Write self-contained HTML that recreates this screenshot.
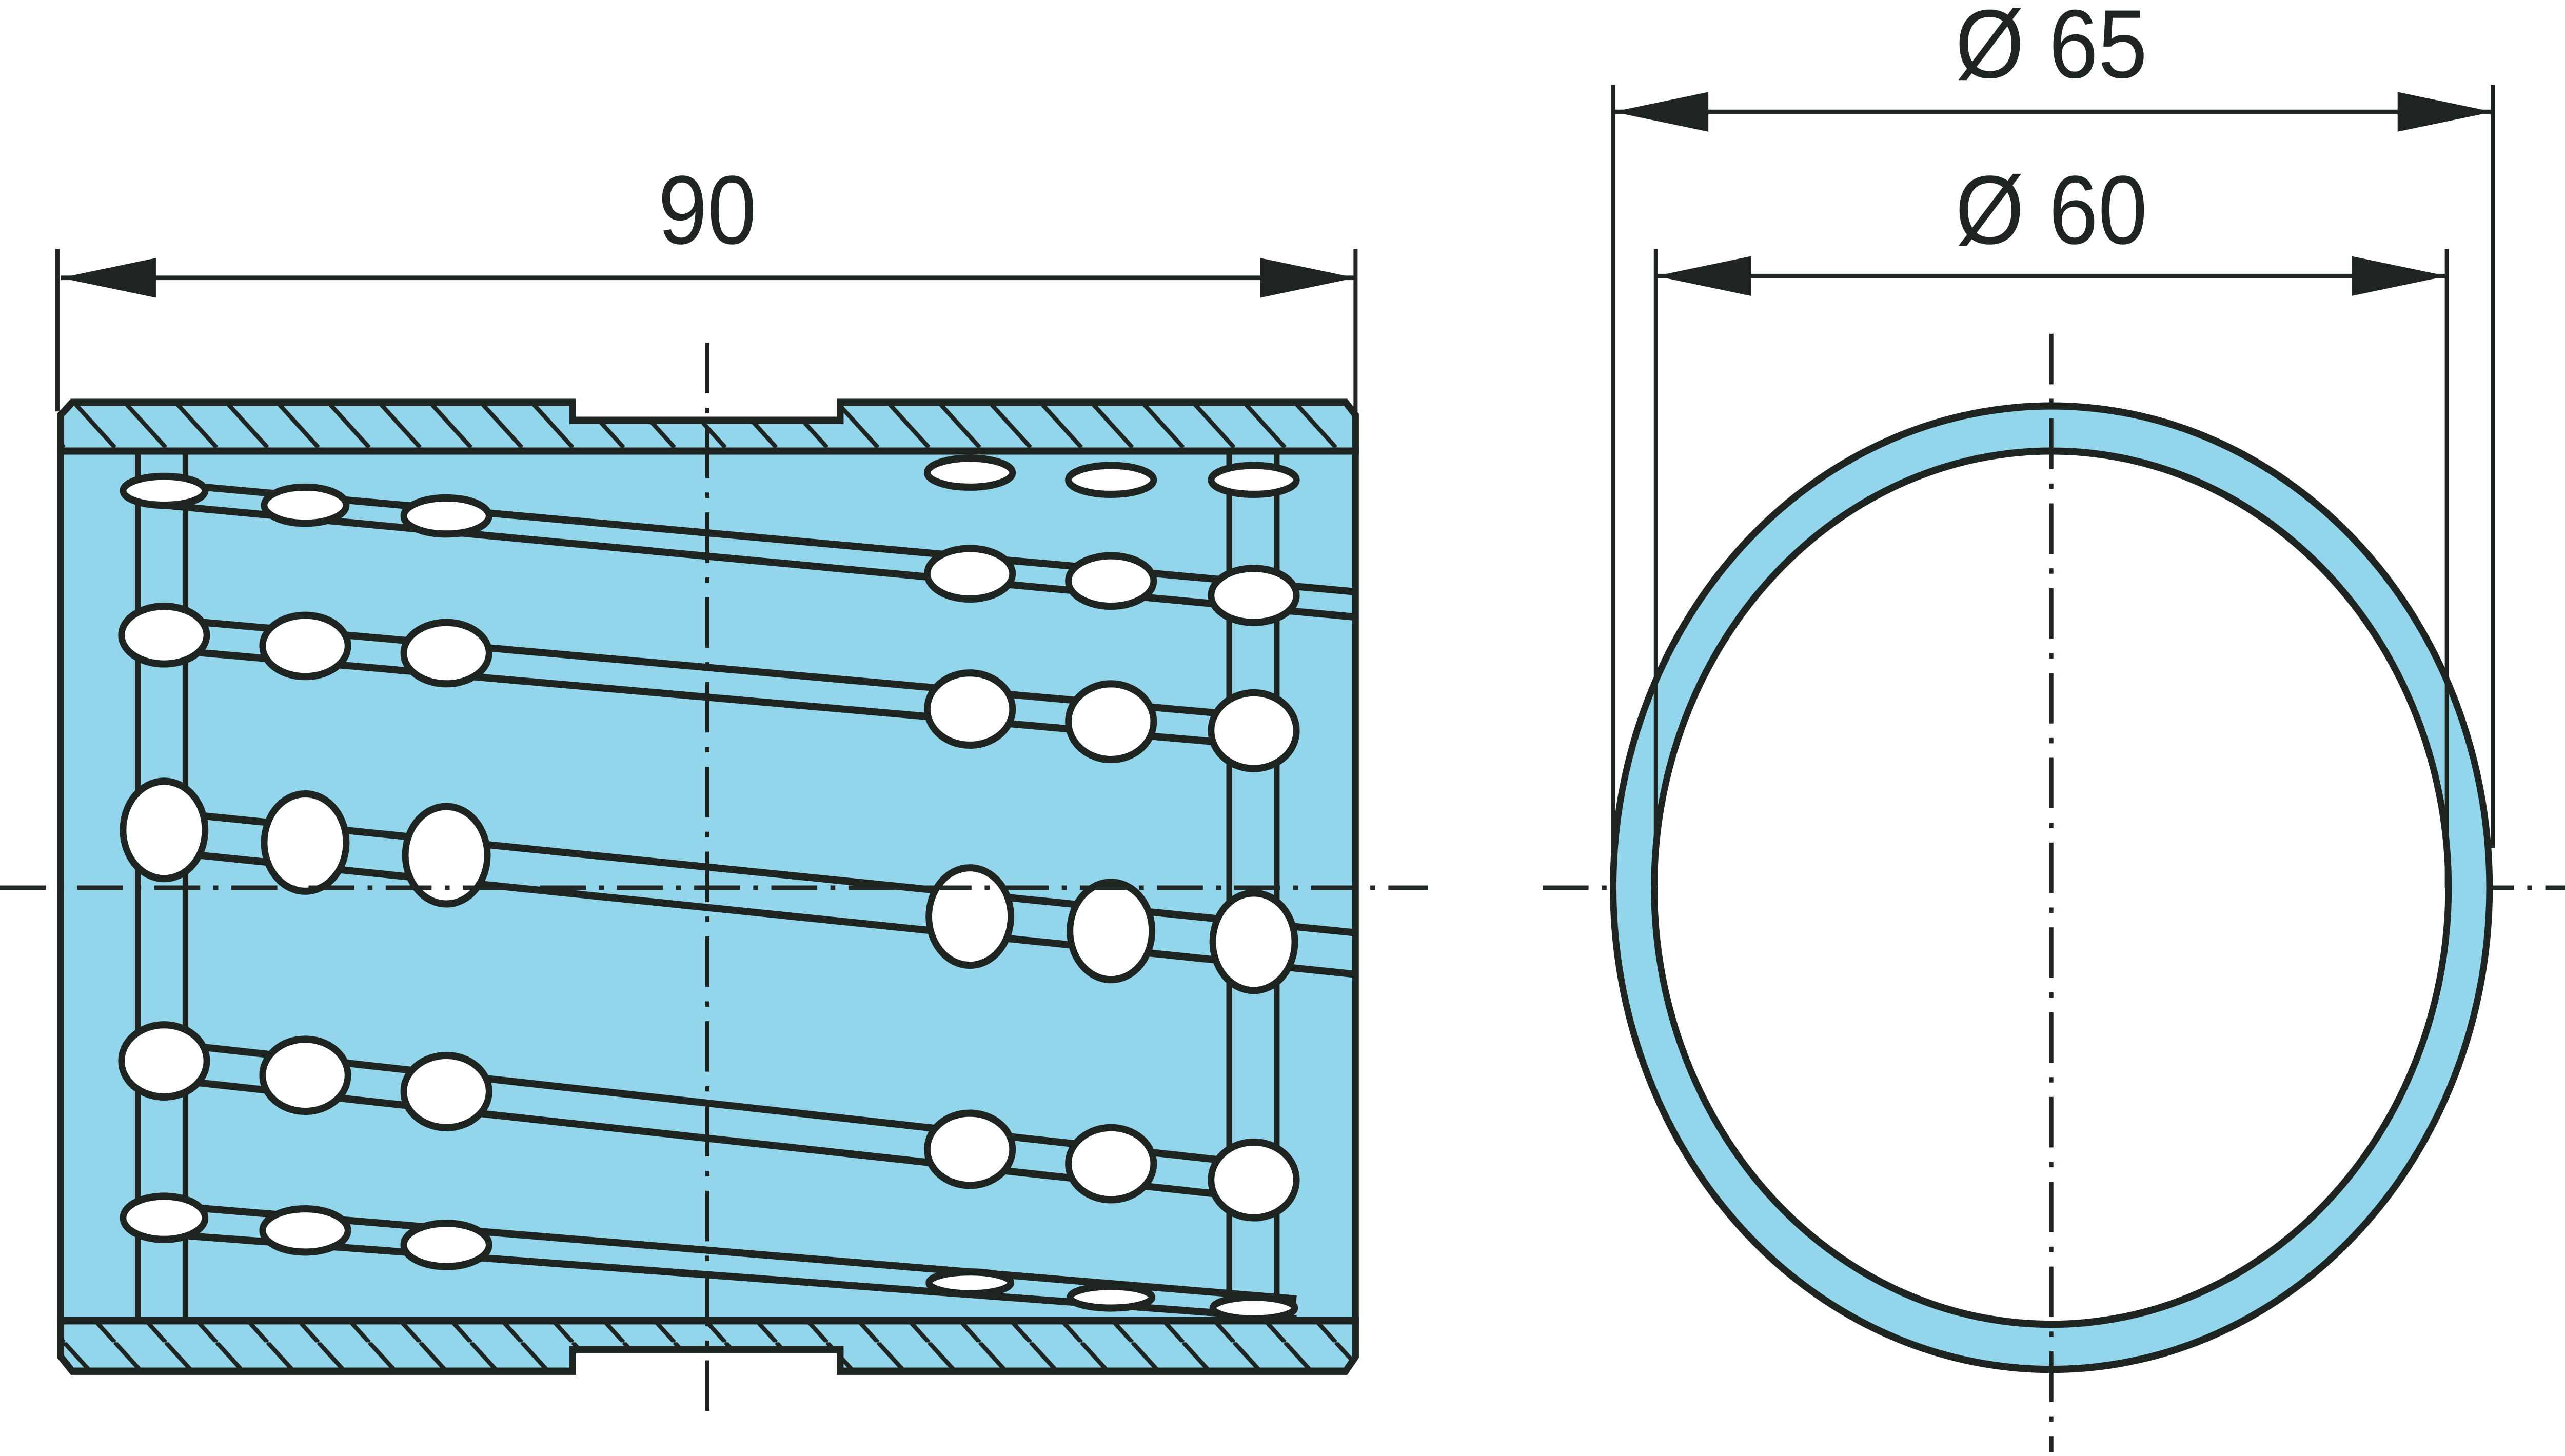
<!DOCTYPE html>
<html><head><style>html,body{margin:0;padding:0;background:#fff;width:100%;height:100%;overflow:hidden}svg{display:block;position:fixed;left:0;top:0;width:100vw;height:100vh}</style></head>
<body>
<svg xmlns="http://www.w3.org/2000/svg" viewBox="0 0 1563 807" preserveAspectRatio="none">
<defs>
<pattern id="h" patternUnits="userSpaceOnUse" width="31" height="31" patternTransform="translate(8,0)">
<line x1="0" y1="0" x2="31" y2="31" stroke="#1e2420" stroke-width="2.5"/>
<line x1="-31" y1="0" x2="0" y2="31" stroke="#1e2420" stroke-width="2.5"/>
<line x1="31" y1="0" x2="62" y2="31" stroke="#1e2420" stroke-width="2.5"/>
</pattern>
</defs>
<g stroke="#1e2420" fill="none" stroke-linejoin="miter">
<rect x="37" y="250" width="789" height="482" fill="#93d6ec" stroke-width="4"/>
<polygon points="37,230 44,223 349,223 349,233 512,233 512,223 820,223 826,230 826,250 37,250" fill="#93d6ec" stroke-width="4"/>
<polygon points="37,230 44,223 349,223 349,233 512,233 512,223 820,223 826,230 826,250 37,250" fill="url(#h)" stroke-width="4"/>
<polygon points="37,732 826,732 826,752 820,760 512,760 512,748 349,748 349,760 44,760 37,752" fill="#93d6ec" stroke-width="4"/>
<polygon points="37,732 826,732 826,752 820,760 512,760 512,748 349,748 349,760 44,760 37,752" fill="url(#h)" stroke-width="4"/>
<g stroke-width="3.5">
<line x1="84" y1="252" x2="84" y2="732"/><line x1="113" y1="252" x2="113" y2="732"/>
<line x1="749" y1="252" x2="749" y2="732"/><line x1="778" y1="252" x2="778" y2="732"/>
</g>
<g stroke-width="4">
<line x1="100" y1="268" x2="826" y2="328"/><line x1="100" y1="280" x2="826" y2="342"/>
<line x1="100" y1="343" x2="764" y2="397"/><line x1="100" y1="360" x2="764" y2="413"/>
<line x1="100" y1="450" x2="826" y2="517"/><line x1="100" y1="472" x2="826" y2="540"/>
<line x1="100" y1="578" x2="764" y2="645"/><line x1="100" y1="598" x2="764" y2="664"/>
<line x1="100" y1="668" x2="790" y2="720"/><line x1="100" y1="684" x2="790" y2="731"/>
</g>
<g fill="#fff" stroke-width="4">
<ellipse cx="100" cy="272" rx="25" ry="8"/><ellipse cx="186" cy="280" rx="25" ry="10"/><ellipse cx="272" cy="286" rx="26" ry="10"/>
<ellipse cx="591" cy="262" rx="26" ry="8"/><ellipse cx="677" cy="266" rx="26" ry="8"/><ellipse cx="764" cy="266" rx="26" ry="8"/>
<ellipse cx="591" cy="318" rx="26" ry="14"/><ellipse cx="677" cy="322" rx="26" ry="14"/><ellipse cx="764" cy="330" rx="26" ry="15"/>
<ellipse cx="100" cy="352" rx="26" ry="16"/><ellipse cx="186" cy="358" rx="26" ry="17"/><ellipse cx="272" cy="362" rx="26" ry="17"/>
<ellipse cx="591" cy="393" rx="26" ry="20"/><ellipse cx="677" cy="400" rx="26" ry="21"/><ellipse cx="764" cy="405" rx="26" ry="21"/>
<ellipse cx="100" cy="460" rx="25" ry="27"/><ellipse cx="186" cy="467" rx="25" ry="27"/><ellipse cx="272" cy="474" rx="25" ry="27"/>
<ellipse cx="591" cy="508" rx="25" ry="27"/><ellipse cx="677" cy="516" rx="25" ry="27"/><ellipse cx="764" cy="522" rx="25" ry="27"/>
<ellipse cx="100" cy="588" rx="26" ry="20"/><ellipse cx="186" cy="596" rx="26" ry="20"/><ellipse cx="272" cy="605" rx="26" ry="20"/>
<ellipse cx="591" cy="637" rx="26" ry="20"/><ellipse cx="677" cy="645" rx="26" ry="20"/><ellipse cx="764" cy="654" rx="26" ry="21"/>
<ellipse cx="100" cy="675" rx="25" ry="12"/><ellipse cx="186" cy="682" rx="26" ry="12"/><ellipse cx="272" cy="690" rx="26" ry="12"/>
<ellipse cx="591" cy="711" rx="25" ry="6"/><ellipse cx="677" cy="719" rx="25" ry="6"/><ellipse cx="764" cy="725" rx="25" ry="6"/>
</g>
<g stroke-width="2.5" stroke-dasharray="28,8,3,8">
<line x1="431" y1="190" x2="431" y2="785"/>
<line x1="0" y1="492" x2="870" y2="492"/>
<line x1="940" y1="492" x2="1563" y2="492"/>
</g>
<g stroke-width="2.5">
<line x1="35" y1="138" x2="35" y2="228"/><line x1="826" y1="138" x2="826" y2="228"/>
<line x1="37" y1="154" x2="826" y2="154"/>
</g>
<circle cx="1250" cy="492" r="267" fill="#93d6ec" stroke-width="4"/>
<circle cx="1250" cy="492" r="242" fill="#fff" stroke-width="4"/>
<g stroke-width="2.5">
<line x1="983" y1="47" x2="983" y2="492"/><line x1="1519" y1="47" x2="1519" y2="470"/>
<line x1="1009" y1="138" x2="1009" y2="492"/><line x1="1491" y1="138" x2="1491" y2="492"/>
<line x1="983" y1="62" x2="1519" y2="62"/>
<line x1="1009" y1="153" x2="1491" y2="153"/>
</g>
<line x1="1250" y1="185" x2="1250" y2="805" stroke-width="2.5" stroke-dasharray="28,8,3,8"/>
</g>
<g fill="#1e2420">
<polygon points="37,154 95,143 95,165"/><polygon points="826,154 768,143 768,165"/>
<polygon points="983,62 1041,51 1041,73"/><polygon points="1519,62 1461,51 1461,73"/>
<polygon points="1009,153 1067,142 1067,164"/><polygon points="1491,153 1433,142 1433,164"/>
</g>
<g font-family="Liberation Sans, sans-serif" font-size="54" fill="#1e2420" text-anchor="middle">
<text x="431" y="135">90</text>
<text x="1250" y="43">Ø 65</text>
<text x="1250" y="135">Ø 60</text>
</g>
</svg>
</body></html>
